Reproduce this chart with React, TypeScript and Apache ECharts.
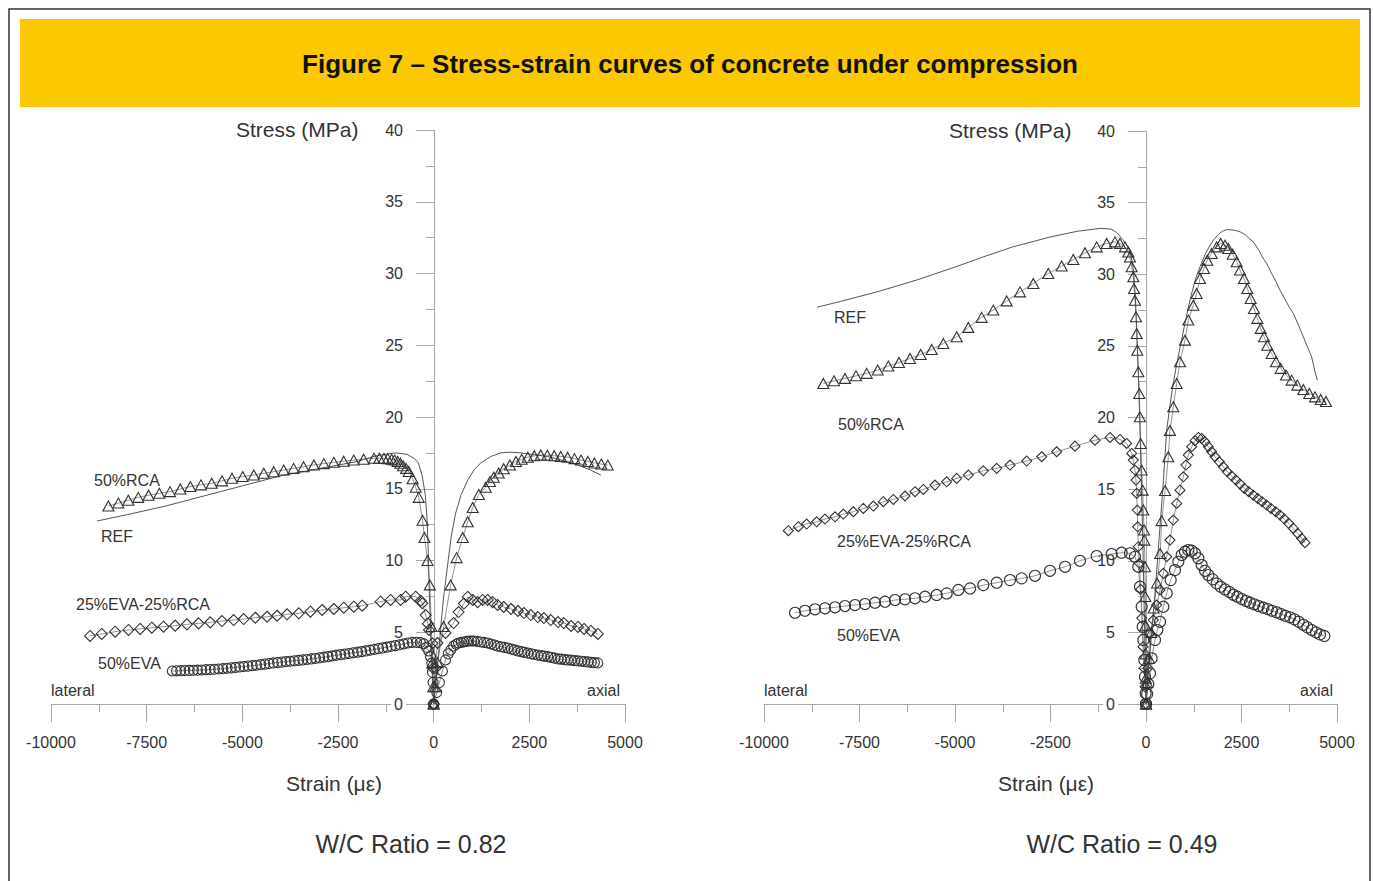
import React, { useEffect, useRef } from "react";
import * as echarts from "echarts";

// ---------- W/C = 0.82 (left) : [strain (με), stress (MPa)] ----------
const refLat82 = [[-8800,12.75],[-8000,13.2],[-7000,13.8],[-6000,14.5],[-5000,15.2],[-4000,15.9],[-3000,16.4],[-2000,16.9],[-1500,17.3],[-1000,17.5],[-700,17.4],[-500,17.1],[-400,16.8],[-300,15.9],[-220,14.6],[-170,12.8],[-140,10.5],[-110,7.5],[-70,4.5],[-35,2],[0,0]];
const refAx82 = [[0,0],[80,2],[130,3.5],[180,5.2],[260,7.45],[370,9.8],[460,11.7],[575,13.3],[720,14.6],[890,15.6],[1050,16.3],[1230,16.8],[1500,17.25],[1750,17.5],[2000,17.55],[2280,17.5],[2700,17.35],[3060,17.2],[3400,16.95],[3770,16.65],[4100,16.3],[4370,15.95]];
const rcaLat82 = [[-8500,13.8],[-8240,14.0],[-7980,14.2],[-7720,14.4],[-7450,14.55],[-7170,14.68],[-6890,14.8],[-6620,14.98],[-6360,15.15],[-6080,15.27],[-5800,15.38],[-5530,15.55],[-5270,15.73],[-4990,15.85],[-4700,15.96],[-4440,16.08],[-4180,16.19],[-3920,16.3],[-3660,16.42],[-3400,16.54],[-3130,16.66],[-2870,16.75],[-2610,16.84],[-2350,16.92],[-2090,17.0],[-1830,17.06],[-1560,17.12],[-1420,17.13],[-1300,17.12],[-1200,17.1],[-1100,17.05],[-1020,17.0],[-940,16.9],[-870,16.78],[-800,16.6],[-720,16.42],[-650,16.2],[-550,15.7],[-470,15.1],[-390,14.4],[-290,12.8],[-240,11.6],[-160,10.0],[-100,8.3],[-60,5.4],[-30,2.9],[-10,1.2],[0,0]];
const rcaAx82 = [[0,0],[40,1.2],[100,2.9],[260,5.4],[445,8.3],[600,10.2],[760,11.6],[890,12.7],[1020,13.7],[1180,14.6],[1360,15.1],[1470,15.5],[1570,15.8],[1700,16.1],[1830,16.4],[1990,16.65],[2150,16.9],[2300,17.05],[2460,17.2],[2630,17.3],[2800,17.35],[2970,17.33],[3150,17.3],[3320,17.25],[3500,17.2],[3680,17.1],[3850,17.0],[4030,16.9],[4200,16.8],[4380,16.72],[4550,16.65]];
const evaRcaLat82 = [[-8979,4.74],[-8674,4.88],[-8325,5.04],[-7976,5.16],[-7670,5.23],[-7365,5.32],[-7060,5.39],[-6754,5.46],[-6448,5.55],[-6143,5.62],[-5838,5.69],[-5532,5.78],[-5227,5.85],[-4965,5.92],[-4660,6.01],[-4354,6.08],[-4092,6.15],[-3830,6.25],[-3525,6.32],[-3220,6.43],[-2914,6.55],[-2610,6.62],[-2348,6.71],[-2086,6.78],[-1867,6.85],[-1387,7.13],[-1126,7.25],[-864,7.25],[-733,7.48],[-471,7.48],[-340,7.2],[-296,7.02],[-209,6.2],[-150,5.6],[-122,5.16],[-35,4.23],[-15,2.5],[0,0]];
const evaRcaAx82 = [[0,0],[50,2.5],[100,4.25],[310,4.95],[520,5.64],[650,6.41],[790,7.0],[890,7.46],[1020,7.25],[1150,7.1],[1280,7.25],[1410,7.25],[1540,7.1],[1670,6.9],[1830,6.76],[2020,6.62],[2200,6.48],[2360,6.34],[2540,6.2],[2720,6.06],[2880,5.99],[3060,5.85],[3250,5.71],[3400,5.64],[3590,5.44],[3770,5.37],[3930,5.23],[4110,5.09],[4290,4.88]];
const evaLat82 = [[-6830,2.30],[-6720,2.31],[-6610,2.32],[-6500,2.33],[-6390,2.34],[-6280,2.35],[-6170,2.36],[-6060,2.37],[-5950,2.39],[-5840,2.40],[-5730,2.42],[-5620,2.44],[-5510,2.46],[-5400,2.49],[-5290,2.52],[-5180,2.55],[-5070,2.58],[-4960,2.61],[-4850,2.64],[-4740,2.67],[-4630,2.70],[-4520,2.74],[-4410,2.78],[-4300,2.82],[-4190,2.86],[-4080,2.89],[-3970,2.92],[-3860,2.95],[-3750,2.98],[-3640,3.01],[-3530,3.04],[-3420,3.07],[-3310,3.10],[-3200,3.14],[-3090,3.18],[-2980,3.22],[-2870,3.26],[-2760,3.30],[-2650,3.35],[-2540,3.40],[-2430,3.44],[-2320,3.48],[-2210,3.52],[-2100,3.57],[-1990,3.61],[-1880,3.65],[-1770,3.70],[-1660,3.75],[-1550,3.80],[-1440,3.86],[-1330,3.91],[-1220,3.96],[-1110,4.02],[-1000,4.07],[-890,4.13],[-780,4.19],[-670,4.25],[-560,4.29],[-450,4.30],[-350,4.28],[-260,4.20],[-190,3.95],[-130,3.70],[-80,3.30],[-50,2.85],[-30,2.20],[-15,1.50],[0,0]];
const evaAx82 = [[0,0],[80,0.8],[150,1.5],[230,2.3],[310,3.07],[380,3.5],[445,3.76],[520,4.04],[590,4.16],[650,4.25],[720,4.29],[790,4.32],[860,4.36],[920,4.39],[990,4.39],[1050,4.39],[1140,4.36],[1230,4.32],[1320,4.29],[1410,4.25],[1500,4.18],[1590,4.11],[1670,4.04],[1760,3.99],[1850,3.94],[1940,3.9],[2030,3.83],[2110,3.77],[2200,3.7],[2290,3.65],[2370,3.6],[2460,3.55],[2550,3.5],[2630,3.45],[2720,3.41],[2810,3.37],[2890,3.34],[2980,3.3],[3070,3.25],[3160,3.19],[3250,3.14],[3330,3.12],[3420,3.09],[3500,3.07],[3590,3.05],[3680,3.02],[3770,3.0],[3860,2.98],[3940,2.95],[4030,2.93],[4120,2.9],[4200,2.88],[4290,2.86]];

// ---------- W/C = 0.49 (right) ----------
const refLat49 = [[-8610,27.7],[-8000,28.1],[-7000,28.8],[-6000,29.6],[-5000,30.5],[-4270,31.2],[-3500,31.9],[-2510,32.6],[-1800,33.0],[-1200,33.2],[-900,33.15],[-760,32.9],[-600,32.4],[-420,31.7],[-330,30.3],[-280,28.5],[-240,26],[-200,23],[-160,19.5],[-120,15.5],[-80,11],[-50,7],[-25,3.5],[-10,1.5],[0,0]];
const refAx49 = [[0,0],[70,2.5],[150,5],[230,7.5],[300,10],[370,12.5],[440,15],[490,17],[541,19.1],[630,20.9],[720,22.5],[810,23.8],[900,25.0],[1000,26.3],[1100,27.6],[1200,28.7],[1300,29.7],[1414,30.52],[1550,31.4],[1650,31.9],[1763,32.38],[1900,32.8],[2000,33.0],[2112,33.12],[2250,33.1],[2350,33.05],[2461,32.96],[2600,32.75],[2700,32.5],[2810,32.26],[2950,31.7],[3050,31.2],[3159,30.75],[3300,30.0],[3400,29.5],[3508,28.89],[3650,28.2],[3750,27.7],[3857,27.26],[4000,26.4],[4118,25.63],[4230,24.9],[4336,24.24],[4424,23.19],[4485,22.61]];
const rcaLat49 = [[-8447,22.38],[-8168,22.56],[-7880,22.73],[-7592,22.91],[-7312,23.08],[-7024,23.31],[-6745,23.59],[-6466,23.84],[-6178,24.12],[-5898,24.4],[-5610,24.75],[-5305,25.17],[-4956,25.63],[-4651,26.29],[-4302,26.99],[-3997,27.5],[-3647,28.14],[-3298,28.77],[-2949,29.36],[-2557,30.05],[-2208,30.57],[-1903,31.03],[-1597,31.5],[-1291,31.91],[-1030,32.15],[-812,32.26],[-681,32.15],[-550,31.91],[-462,31.56],[-420,31.21],[-375,30.52],[-332,29.82],[-314,29.0],[-288,28.19],[-262,27.03],[-244,25.87],[-227,24.7],[-201,23.19],[-175,21.68],[-160,20.05],[-140,18.19],[-113,16.33],[-87,14.93],[-70,13.54],[-52,12.14],[-44,11.44],[-26,9.58],[-18,7.5],[-12,5.5],[-8,3.5],[-4,1.8],[0,0]];
const rcaAx49 = [[0,0],[30,1.5],[80,3.2],[140,5],[200,6.7],[290,8.44],[370,10.5],[410,12.8],[500,14.9],[584,17.26],[628,19.1],[715,20.75],[803,22.38],[890,23.89],[1021,25.4],[1108,26.8],[1239,27.84],[1326,28.66],[1414,29.71],[1518,30.4],[1605,30.98],[1719,31.45],[1850,31.91],[1955,32.15],[2068,32.03],[2155,31.8],[2269,31.4],[2374,30.87],[2461,30.29],[2565,29.71],[2652,29.01],[2740,28.31],[2827,27.61],[2914,26.92],[3002,26.22],[3089,25.63],[3176,25.05],[3290,24.47],[3403,23.89],[3526,23.43],[3665,22.96],[3813,22.61],[3961,22.26],[4118,21.96],[4275,21.68],[4424,21.44],[4573,21.26],[4712,21.12]];
const evaRcaLat49 = [[-9363,12.1],[-9101,12.38],[-8883,12.56],[-8621,12.72],[-8403,12.91],[-8141,13.07],[-7923,13.26],[-7661,13.42],[-7400,13.65],[-7138,13.82],[-6876,14.12],[-6614,14.28],[-6309,14.52],[-6047,14.82],[-5829,14.98],[-5524,15.28],[-5218,15.51],[-4956,15.75],[-4651,15.98],[-4258,16.28],[-3909,16.45],[-3560,16.68],[-3123,16.96],[-2731,17.26],[-2338,17.61],[-1859,18.0],[-1335,18.42],[-942,18.61],[-681,18.47],[-506,18.19],[-375,17.49],[-332,17.03],[-288,16.33],[-262,15.63],[-244,14.7],[-227,13.54],[-218,12.37],[-201,10.98],[-175,9.82],[-140,8],[-110,6],[-80,4],[-50,2.5],[-25,1.2],[0,0]];
const evaRcaAx49 = [[0,0],[50,2.5],[105,4.93],[192,5.86],[279,6.91],[367,7.96],[454,9.12],[541,10.28],[628,11.44],[715,12.84],[803,14.0],[890,14.93],[977,15.86],[1047,16.68],[1108,17.38],[1196,17.96],[1283,18.38],[1370,18.61],[1457,18.54],[1545,18.3],[1632,17.96],[1719,17.61],[1806,17.26],[1920,16.91],[2025,16.56],[2129,16.21],[2243,15.91],[2356,15.63],[2461,15.35],[2574,15.05],[2688,14.82],[2810,14.58],[2923,14.35],[3037,14.12],[3159,13.89],[3272,13.65],[3395,13.42],[3508,13.19],[3621,12.91],[3735,12.61],[3857,12.26],[3970,11.91],[4075,11.56],[4162,11.26]];
const evaLat49 = [[-9188,6.37],[-8927,6.51],[-8665,6.61],[-8403,6.68],[-8141,6.75],[-7880,6.84],[-7618,6.91],[-7356,6.98],[-7094,7.07],[-6832,7.14],[-6571,7.26],[-6309,7.31],[-6047,7.38],[-5785,7.49],[-5480,7.61],[-5218,7.72],[-4913,7.96],[-4607,8.07],[-4258,8.3],[-3909,8.47],[-3560,8.65],[-3255,8.77],[-2906,8.95],[-2513,9.3],[-2120,9.58],[-1728,10.0],[-1291,10.33],[-899,10.47],[-637,10.56],[-419,10.52],[-288,10.28],[-201,9.58],[-157,8.19],[-113,6.79],[-87,5.39],[-70,4.47],[-44,3.07],[-26,1.91],[-9,0.75],[0,0]];
const evaAx49 = [[0,0],[30,0.7],[60,1.4],[105,2.14],[148,3.19],[236,4.47],[297,5.16],[367,5.74],[454,6.79],[541,7.73],[646,8.65],[759,9.35],[846,9.93],[934,10.4],[1021,10.63],[1108,10.75],[1196,10.7],[1283,10.52],[1370,10.17],[1457,9.7],[1545,9.3],[1632,9.0],[1745,8.7],[1850,8.42],[1955,8.19],[2068,8.0],[2181,7.82],[2286,7.63],[2391,7.49],[2505,7.33],[2618,7.19],[2723,7.07],[2836,6.96],[2949,6.84],[3071,6.72],[3185,6.63],[3298,6.51],[3421,6.4],[3534,6.28],[3647,6.16],[3770,6.05],[3883,5.91],[3997,5.74],[4118,5.53],[4223,5.35],[4336,5.16],[4450,5.0],[4555,4.86],[4668,4.75]];

const xTicks = { min: -10000, max: 5000, interval: 2500 };
const yTicks = { min: 0, max: 40, interval: 5 };
const seriesNames = ["REF", "50%RCA", "25%EVA-25%RCA", "50%EVA"];
const titleText = "Figure 7 \u2013 Stress-strain curves of concrete under compression";
const ratioLabels = ["W/C Ratio = 0.82", "W/C Ratio = 0.49"];

const FONT = "'Liberation Sans', Arial, Helvetica, sans-serif";
const AXIS = "#a8a8a8";
const INK = "#333";

function markSeries(name: string, lat: number[][], ax: number[][], idx: number, symbol: string, size: any) {
  return {
    type: "line",
    name,
    xAxisIndex: idx,
    yAxisIndex: idx,
    data: [...lat, ...ax],
    symbol,
    symbolSize: size,
    showSymbol: true,
    silent: true,
    lineStyle: { color: "#777", width: 0.8 },
    itemStyle: { color: "rgba(0,0,0,0)", borderColor: "#333", borderWidth: 1.1 },
    emphasis: { disabled: true },
  };
}

function refSeries(lat: number[][], ax: number[][], idx: number) {
  return {
    type: "line",
    name: "REF",
    xAxisIndex: idx,
    yAxisIndex: idx,
    data: [...lat, ...ax],
    symbol: "none",
    showSymbol: false,
    silent: true,
    lineStyle: { color: "#555", width: 1 },
    emphasis: { disabled: true },
  };
}

function txt(text: string, x: number, y: number, size: number, align = "left", extra: any = {}) {
  return {
    type: "text",
    x,
    y,
    silent: true,
    style: {
      text,
      fontSize: size,
      fontFamily: FONT,
      fill: INK,
      align,
      verticalAlign: "middle",
      ...extra,
    },
  };
}

export default function App() {
  const ref = useRef<HTMLDivElement>(null);
  useEffect(() => {
    document.body.style.margin = "0";
    const chart = echarts.init(ref.current!, null, { renderer: "svg" });
    const xAxisBase = (i: number) => ({
      type: "value",
      gridIndex: i,
      ...xTicks,
      axisLine: { onZero: false, lineStyle: { color: AXIS, width: 1 } },
      axisTick: { length: 18, lineStyle: { color: AXIS } },
      minorTick: { show: true, splitNumber: 2, length: 8, lineStyle: { color: AXIS } },
      axisLabel: { margin: 30, color: INK, fontSize: 16, fontFamily: FONT, formatter: (v: number) => String(v) },
      splitLine: { show: false },
      minorSplitLine: { show: false },
    });
    // y axis sits at strain = 0, i.e. 2/3 of the grid width to the right of its left edge
    const yAxisBase = (i: number, gridWidth: number) => ({
      type: "value",
      gridIndex: i,
      position: "left",
      offset: -Math.round((gridWidth * 10000) / 15000),
      ...yTicks,
      axisLine: { onZero: false, lineStyle: { color: AXIS, width: 1 } },
      axisTick: { length: 18, lineStyle: { color: AXIS } },
      minorTick: { show: true, splitNumber: 2, length: 8, lineStyle: { color: AXIS } },
      axisLabel: { margin: 28, color: INK, fontSize: 16, fontFamily: FONT, backgroundColor: "#fff", padding: [0, 3] },
      splitLine: { show: false },
      minorSplitLine: { show: false },
    });
    const option: any = {
      animation: false,
      backgroundColor: "#fff",
      grid: [
        { left: 51, top: 130, width: 574, height: 574 },
        { left: 764, top: 131, width: 573, height: 573 },
      ],
      xAxis: [xAxisBase(0), xAxisBase(1)],
      yAxis: [yAxisBase(0, 574), yAxisBase(1, 573)],
      series: [
        markSeries(seriesNames[1], rcaLat82, rcaAx82, 0, "triangle", [11, 10]),
        markSeries(seriesNames[2], evaRcaLat82, evaRcaAx82, 0, "diamond", [11, 11]),
        markSeries(seriesNames[3], evaLat82, evaAx82, 0, "circle", 10),
        refSeries(refLat82, refAx82, 0),
        markSeries(seriesNames[1], rcaLat49, rcaAx49, 1, "triangle", [11, 10]),
        markSeries(seriesNames[2], evaRcaLat49, evaRcaAx49, 1, "diamond", [10, 10]),
        markSeries(seriesNames[3], evaLat49, evaAx49, 1, "circle", 11),
        refSeries(refLat49, refAx49, 1),
      ],
      graphic: [
        { type: "rect", silent: true, shape: { x: 9, y: 9, width: 1361, height: 900 }, style: { fill: "none", stroke: "#333", lineWidth: 1.5 } },
        { type: "rect", silent: true, shape: { x: 20, y: 19, width: 1340, height: 88 }, style: { fill: "#FCC800" } },
        txt(titleText, 690, 64, 26, "center", { fontWeight: "bold", fill: "#111" }),
        // left chart
        txt("Stress (MPa)", 236, 129, 21),
        txt("Strain (\u03bc\u03b5)", 334, 783, 21, "center"),
        txt(ratioLabels[0], 411, 844, 25, "center"),
        txt("lateral", 51, 690, 16),
        txt("axial", 620, 690, 16, "right"),
        txt(seriesNames[1], 94, 480, 16),
        txt(seriesNames[0], 101, 536, 16),
        txt(seriesNames[2], 76, 604, 16),
        txt(seriesNames[3], 98, 663, 16),
        // right chart
        txt("Stress (MPa)", 949, 130, 21),
        txt("Strain (\u03bc\u03b5)", 1046, 783, 21, "center"),
        txt(ratioLabels[1], 1122, 844, 25, "center"),
        txt("lateral", 764, 690, 16),
        txt("axial", 1333, 690, 16, "right"),
        txt(seriesNames[0], 834, 317, 16),
        txt(seriesNames[1], 838, 424, 16),
        txt(seriesNames[2], 837, 541, 16),
        txt(seriesNames[3], 837, 635, 16),
      ],
    };
    chart.setOption(option);
    return () => chart.dispose();
  }, []);
  return <div ref={ref} style={{ width: 1373, height: 881 }} />;
}
